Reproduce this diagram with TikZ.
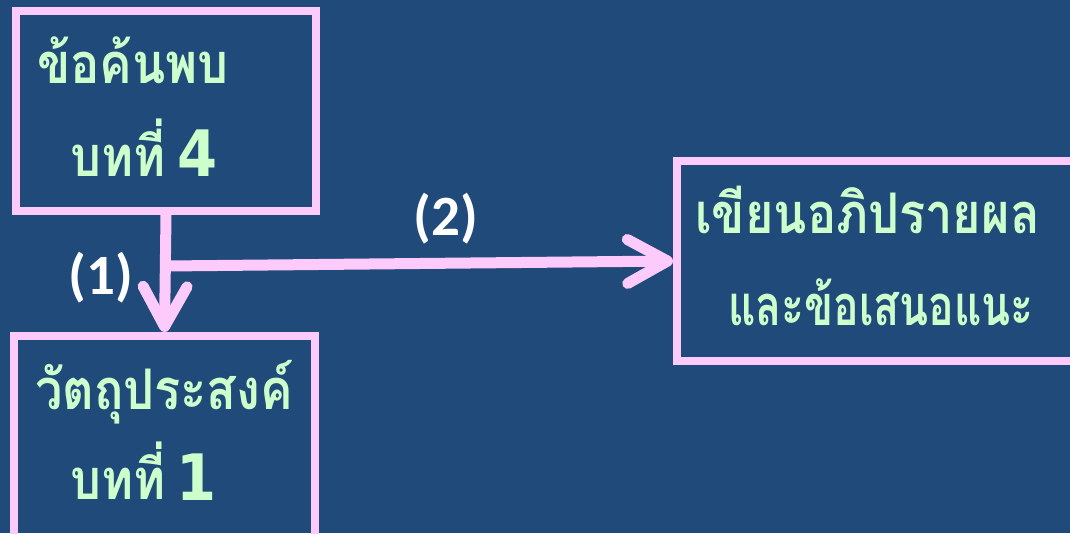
\documentclass[tikz,border=0pt]{standalone}
\usepackage{fontspec}
\newfontfamily\thaifont[Script=Thai, FakeStretch=0.87]{Loma}
\newfontfamily\thainarrow[Script=Thai, FakeStretch=0.76]{Loma}
\newfontfamily\numfont{DejaVu Sans Condensed}
\newfontfamily\labelfont{Carlito}
\usetikzlibrary{arrows.meta}
\definecolor{bgblue}{RGB}{32,74,122}
\definecolor{framepink}{RGB}{253,203,251}
\definecolor{textgreen}{RGB}{204,255,204}
\begin{document}
\begin{tikzpicture}[x=1pt,y=-1pt,
  frame/.style={draw=framepink, line width=8pt, rectangle, inner sep=0pt},
  thai/.style={text=textgreen, font=\thaifont\bfseries\fontsize{56}{60}\selectfont, anchor=base west, inner sep=0pt},
  thaitight/.style={thai, font=\thainarrow\bfseries\fontsize{56}{60}\selectfont},
  num/.style={text=textgreen, font=\numfont\bfseries\fontsize{64}{70}\selectfont, anchor=base west, inner sep=0pt},
  tag/.style={text=white, font=\labelfont\bfseries\fontsize{57}{60}\selectfont, inner sep=0pt},
  link/.style={draw=framepink, line width=11pt, -{Straight Barb[length=40pt,width=44pt,round]}}]
\fill[bgblue] (0,0) rectangle (1070,533);
\useasboundingbox (0,0) rectangle (1070,533);
\clip (0,0) rectangle (1070,533);

% boxes
\node[frame, minimum width=300pt, minimum height=200pt] (b1) at (166,111) {};
\node[frame, minimum width=301pt, minimum height=230pt] (b3) at (164.5,451) {};
\node[frame, minimum width=443pt, minimum height=200pt] (b2) at (898.5,261) {};

% texts
\node[thai] (t1) at (37,83) {ข้อค้นพบ};
\node[thai] (t2) at (70,176) {บทที่};
\node[num] (n4) at (177,176) {4};
\node[thai] (t3) at (35,409) {วัตถุประสงค์};
\node[thai] (t4) at (70,499) {บทที่};
\node[num] (n1) at (176,500) {1};
\node[thai] (t5) at (695,233) {เขียนอภิปรายผล};
\node[thaitight] (t6) at (728,325) {และข้อเสนอแนะ};

% connectors
\coordinate (j) at (166,266);
\draw[link] (b1.south) -- (b3.north);
\draw[link] (j) -- (b2.west);

\node[tag] (l1) at (101,278) {(1)};
\node[tag] (l2) at (446,219) {(2)};
\end{tikzpicture}
\end{document}
